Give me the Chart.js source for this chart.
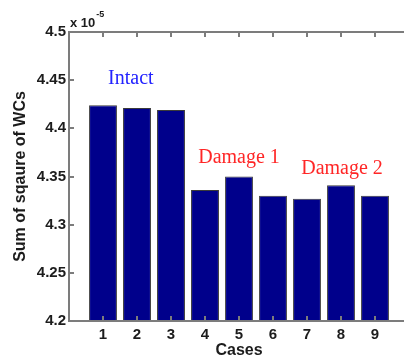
<!DOCTYPE html>
<html>
<head>
<meta charset="utf-8">
<script src="https://cdn.jsdelivr.net/npm/chart.js@4"></script>
<style>
html, body { margin: 0; padding: 0; background: #fff; overflow: hidden; width: 404px; height: 357px; }
#wrap { position: relative; width: 414px; height: 357px; }
</style>
</head>
<body>
<div id="wrap"><canvas id="c" width="414" height="357"></canvas></div>
<script>
// Sum of squared wavelet coefficients per case (in units of 10^-5)
const cases = [1, 2, 3, 4, 5, 6, 7, 8, 9];
const sumSqWC = [4.424, 4.421, 4.419, 4.336, 4.350, 4.330, 4.327, 4.341, 4.330];
const yTicks = [4.2, 4.25, 4.3, 4.35, 4.4, 4.45, 4.5];
const exponent = '-5';

// Group captions, anchored in data coordinates
const groupNotes = [
  { text: 'Intact',   x: 1.82, y: 4.451, color: '#2323ff' },
  { text: 'Damage 1', x: 5.0,  y: 4.369, color: '#ff2626' },
  { text: 'Damage 2', x: 8.03, y: 4.358, color: '#ff2626' }
];

const axisColor = '#7c7c7c';
const textColor = '#1c1c1c';

// Axes box with inward tick marks, captions and the exponent label
const axesBox = {
  id: 'axesBox',
  afterDraw(chart) {
    const ctx = chart.ctx;
    const a = chart.chartArea;
    const sx = chart.scales.x, sy = chart.scales.y;
    const L = Math.round(a.left), T = Math.round(a.top);
    const R = Math.round(a.right), B = Math.round(a.bottom);
    const tl = 5;

    ctx.save();
    ctx.fillStyle = axisColor;
    ctx.fillRect(L - 1, T - 1, 2, B - T + 2);
    ctx.fillRect(L - 1, T - 1, R - L + 2, 2);
    ctx.fillRect(R - 1, T - 1, 2, B - T + 2);
    ctx.fillRect(L - 1, B - 1, R - L + 2, 2);
    yTicks.forEach(v => {
      const y = Math.round(sy.getPixelForValue(v));
      ctx.fillRect(L, y - 1, tl, 2);
      ctx.fillRect(R - tl, y - 1, tl, 2);
    });
    cases.forEach(v => {
      const x = Math.round(sx.getPixelForValue(v));
      ctx.fillRect(x - 1, B - tl, 2, tl);
      ctx.fillRect(x - 1, T, 2, tl);
    });

    ctx.textAlign = 'center';
    ctx.textBaseline = 'middle';
    ctx.font = '20px "Liberation Serif", "Times New Roman", serif';
    groupNotes.forEach(n => {
      ctx.fillStyle = n.color;
      ctx.fillText(n.text, sx.getPixelForValue(n.x), sy.getPixelForValue(n.y));
    });

    // "x 10^-5" multiplier above the y axis
    ctx.fillStyle = textColor;
    ctx.textAlign = 'left';
    ctx.textBaseline = 'alphabetic';
    ctx.font = 'bold 13px "Liberation Sans", Arial, sans-serif';
    const base = 'x 10';
    ctx.fillText(base, a.left + 1, a.top - 5);
    const w = ctx.measureText(base).width;
    ctx.font = 'bold 9px "Liberation Sans", Arial, sans-serif';
    ctx.fillText(exponent, a.left + w + 2, a.top - 15);
    ctx.restore();
  }
};

const tickFont = { family: '"Liberation Sans", Arial, sans-serif', size: 15, weight: 'bold' };
const titleFont = { family: '"Liberation Sans", Arial, sans-serif', size: 16, weight: 'bold', lineHeight: 1 };

new Chart(document.getElementById('c'), {
  type: 'bar',
  data: {
    datasets: [{
      data: cases.map((c, i) => ({ x: c, y: sumSqWC[i] })),
      backgroundColor: '#00008b',
      borderColor: '#3a3a3a',
      borderWidth: 1,
      categoryPercentage: 1,
      barPercentage: 0.82,
      base: 4.2
    }]
  },
  plugins: [axesBox],
  options: {
    responsive: false,
    animation: false,
    events: [],
    layout: { padding: { top: 32, right: 5, left: 0, bottom: 0 } },
    plugins: { legend: { display: false }, tooltip: { enabled: false } },
    scales: {
      x: {
        type: 'linear',
        min: 0,
        max: 10,
        offset: false,
        grid: { display: false, drawTicks: false, offset: false },
        border: { display: false },
        afterBuildTicks: s => { s.ticks = cases.map(v => ({ value: v })); },
        afterFit: s => { s.height = 36; },
        ticks: { font: tickFont, color: textColor, padding: 5, maxRotation: 0, autoSkip: false,
                 callback: v => String(v) },
        title: { display: true, text: 'Cases', font: titleFont, color: textColor, padding: { top: 0, bottom: -2 } }
      },
      y: {
        type: 'linear',
        min: 4.2,
        max: 4.5,
        grid: { display: false, drawTicks: false },
        border: { display: false },
        afterBuildTicks: s => { s.ticks = yTicks.map(v => ({ value: v })); },
        afterFit: s => { s.width = 69; },
        ticks: { font: tickFont, color: textColor, padding: 3, autoSkip: false,
                 callback: v => String(Number(v.toFixed(2))) },
        title: { display: true, text: 'Sum of sqaure of WCs', font: titleFont, color: textColor, padding: { top: 13, bottom: 0 } }
      }
    }
  }
});
</script>
</body>
</html>
